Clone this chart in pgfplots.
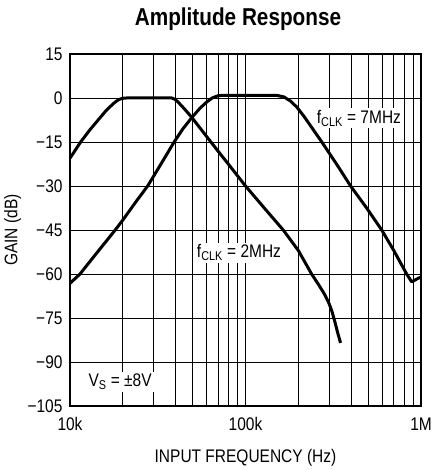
\documentclass[border=0pt]{standalone}
\usepackage{fontspec}
\setmainfont{Liberation Sans}[FakeStretch=0.85]
\usepackage{pgfplots}
\pgfplotsset{compat=1.18}
\newcommand{\lblfont}{\fontsize{18.3}{21}\selectfont}
\begin{document}
\begin{tikzpicture}[x=1bp,y=1bp]
\path[use as bounding box] (-70,-64) rectangle (365,406);
\begin{axis}[
  at={(0,0)}, anchor=south west,
  scale only axis, width=351bp, height=352bp,
  xmode=log, xmin=1e4, xmax=1e6, ymin=-105, ymax=15,
  ytick={-105,-90,-75,-60,-45,-30,-15,0,15},
  yticklabels={−105,−90,−75,−60,−45,−30,−15,0,15},
  xtick={10000,100000,1000000}, xticklabels={10k,100k,1M},
  minor xtick={20000,30000,40000,50000,60000,70000,80000,90000,200000,300000,400000,500000,600000,700000,800000,900000},
  grid=both,
  major grid style={black, line width=0.8bp},
  minor grid style={black, line width=0.8bp},
  major tick length=0pt, minor tick length=0pt,
  axis line style={black, line width=1.4bp},
  ticklabel style={font=\lblfont},
  yticklabel style={xshift=-4bp},
  xticklabel style={yshift=-8bp},
  xlabel={INPUT FREQUENCY (Hz)},
  ylabel={GAIN (dB)},
  every axis x label/.style={at={(axis description cs:0.5,0)}, anchor=base, yshift=-56bp, font=\lblfont},
  every axis y label/.style={at={(axis description cs:-0.1496,0.5)}, anchor=base, rotate=90, font=\lblfont},
  clip=true,
]
\node[fill=white, inner sep=2bp, anchor=base, font=\lblfont] at (axis cs:443000,-8.6) {f\textsubscript{CLK} = 7MHz};
\node[fill=white, inner sep=2bp, anchor=base, font=\lblfont] at (axis cs:91800,-54.5) {f\textsubscript{CLK} = 2MHz};
\node[fill=white, inner sep=2bp, anchor=base, font=\lblfont] at (axis cs:19300,-98.5) {V\textsubscript{S} = ±8V};
% fCLK = 2MHz
\addplot[black, line width=3bp, line join=round] coordinates {
(10000,-20.5) (11500,-15) (13000,-10.8) (14800,-6.8) (16000,-4.4) (16900,-3.0)
(18000,-1.5) (19000,-0.5) (20000,-0.1) (21000,0) (38000,0) (39500,-0.4)
(41000,-1.2) (42500,-2.2) (45000,-3.8) (49400,-6.6) (55000,-10.2) (62000,-14.2)
(71000,-18.7) (80000,-22.6) (100000,-30) (130000,-38) (164000,-45) (200000,-52)
(238000,-60) (260000,-63.5) (280000,-66.6) (297000,-69.6) (310000,-72.5) (322000,-76)
(335000,-80) (348000,-83.5)
};
% fCLK = 7MHz
\addplot[black, line width=3bp, line join=round] coordinates {
(10000,-63.2) (11400,-60) (14000,-53.3) (18100,-45) (20000,-41.6) (24000,-35)
(27700,-30) (33000,-22.5) (39200,-15) (44000,-10.5) (49400,-6.7) (55000,-3.5)
(60000,-1.4) (65000,0.1) (70000,0.8) (75000,0.9) (150000,0.9) (165000,0.4)
(180000,-1) (196000,-3.1) (215000,-6.2) (240000,-10.3) (272000,-15) (330000,-22.5)
(397000,-30) (490000,-37.5) (597000,-45) (700000,-52) (828000,-60) (885000,-62.7)
(940000,-61.8) (1000000,-61)
};
\end{axis}
\node[anchor=base, font=\fontsize{24.5}{28}\bfseries] at (168,380) {Amplitude Response};
\end{tikzpicture}
\end{document}
